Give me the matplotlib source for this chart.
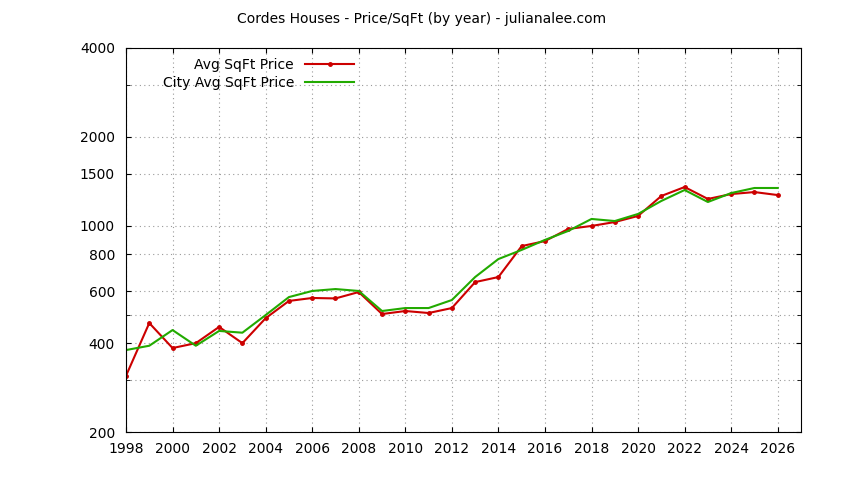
import matplotlib
matplotlib.use("Agg")
import matplotlib.pyplot as plt
from matplotlib.ticker import FixedLocator, NullFormatter

years = list(range(1998, 2027))
avg_price = [310, 468, 385, 400, 454, 400, 486, 556, 569, 567, 596, 502, 514, 506, 526,
             644, 670, 853, 887, 975, 998, 1029, 1079, 1261, 1352, 1232, 1280, 1300, 1270]
city_price = [379, 392, 443, 392, 440, 434, 498, 573, 601, 610, 601, 514, 526, 526, 560,
              670, 771, 828, 895, 960, 1054, 1037, 1096, 1213, 1321, 1203, 1290, 1342, 1342]
y_ticks = [200, 400, 600, 800, 1000, 1500, 2000, 4000]
y_minor = [300, 500, 3000]
x_ticks = list(range(1998, 2027, 2))

plt.rcParams['font.family'] = ['DejaVu Sans']
fig = plt.figure(figsize=(8.44, 4.8), dpi=100)
ax = fig.add_axes([126/844, 0.1, 675/844, 0.8])
ax.plot(years, avg_price, color='#cc0000', lw=1.5, marker='o', ms=2.5, label='Avg SqFt Price')
ax.plot(years, city_price, color='#22aa00', lw=1.5, label='City Avg SqFt Price')
ax.set_yscale('log')
ax.set_ylim(200, 4000)
ax.set_xlim(1998, 2027)
ax.yaxis.set_major_locator(FixedLocator(y_ticks))
ax.yaxis.set_minor_locator(FixedLocator(y_minor))
ax.yaxis.set_major_formatter(plt.FuncFormatter(lambda v, p: f"{int(v)}"))
ax.yaxis.set_minor_formatter(NullFormatter())
ax.set_xticks(x_ticks)
ax.grid(True, which='both', color='#999999', linestyle=(0, (1, 3)), lw=0.8)
ax.tick_params(which='both', direction='in', labelsize=10, top=True, right=True)
ax.tick_params(axis='y', which='major', pad=8)
ax.tick_params(axis='x', which='major', pad=7)
ax.tick_params(which='minor', length=3)
for s in ax.spines.values():
    s.set_linewidth(0.8)
leg = ax.legend(loc='upper left', markerfirst=False, frameon=False, fontsize=10,
                handlelength=3.5, borderaxespad=0.3, labelspacing=0.3, bbox_to_anchor=(0.04, 1.0))
for t in leg.get_texts():
    t.set_ha('right')
leg._legend_box.align = 'right'
fig.text(0.5, 0.96, 'Cordes Houses - Price/SqFt (by year) - julianalee.com', ha='center', va='center', fontsize=10)
fig.savefig('out.png', dpi=100)
